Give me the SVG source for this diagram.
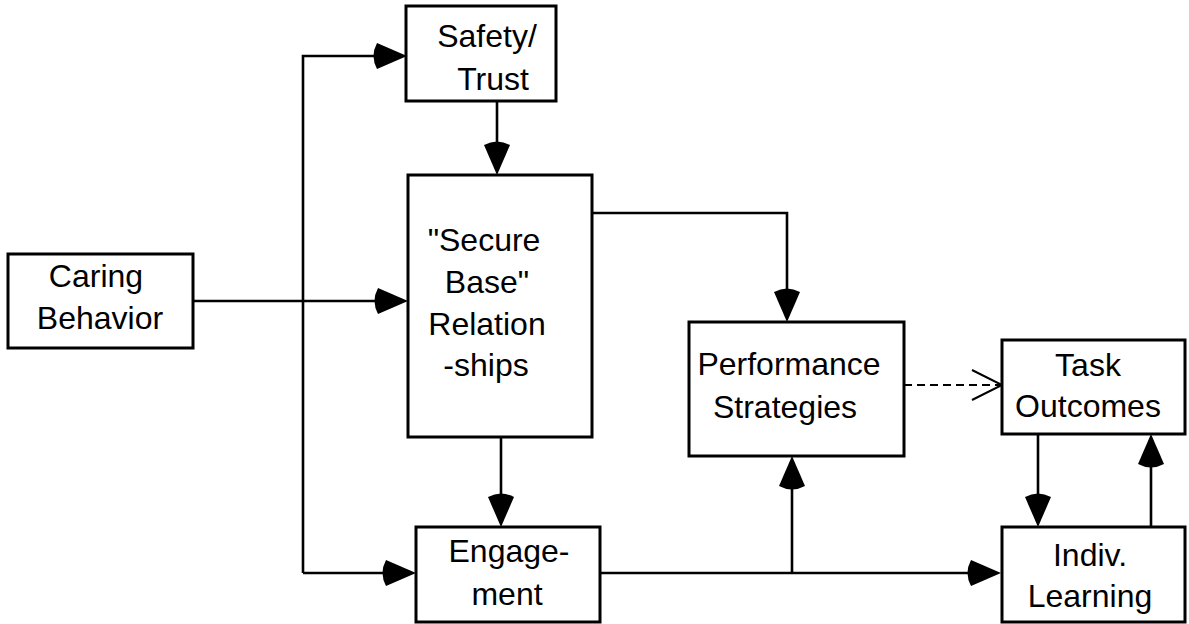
<svg xmlns="http://www.w3.org/2000/svg" width="1189" height="624" viewBox="0 0 1189 624">
<style>
.box{fill:#fff;stroke:#000;stroke-width:3}
.t{font-family:"Liberation Sans",Arial,sans-serif;font-size:32px;fill:#000;text-anchor:middle}
.c{fill:none;stroke:#000;stroke-width:2.6}
.d{fill:none;stroke:#000;stroke-width:2;stroke-dasharray:8 5}
.o{fill:none;stroke:#000;stroke-width:2}
</style>
<defs>
<marker id="ah" markerUnits="userSpaceOnUse" viewBox="-38 -15 40 30" refX="-10" refY="0" markerWidth="40" markerHeight="30" orient="auto">
<path d="M0,0 L-30,-13 Q-37,0 -30,13 Z" fill="#000"/>
</marker>
</defs>
<rect width="1189" height="624" fill="#fff"/>
<g id="connectors">
<path class="c" d="M303,573 V56 H397" marker-end="url(#ah)"/>
<path class="c" d="M303,573 H406" marker-end="url(#ah)"/>
<path class="c" d="M193,301 H398" marker-end="url(#ah)"/>
<path class="c" d="M497,101 V165" marker-end="url(#ah)"/>
<path class="c" d="M592,213 H787 V312" marker-end="url(#ah)"/>
<path class="c" d="M501,437 V517" marker-end="url(#ah)"/>
<path class="c" d="M600,573 H991" marker-end="url(#ah)"/>
<path class="c" d="M792,573 V466" marker-end="url(#ah)"/>
<path class="d" d="M904,385 H1001"/>
<polyline class="o" points="972,370 1002,385 972,400"/>
<path class="c" d="M1038,434 V517" marker-end="url(#ah)"/>
<path class="c" d="M1151,527 V444" marker-end="url(#ah)"/>
</g>
<g id="safety">
<rect class="box" x="406" y="6" width="150" height="95"/>
<text class="t" x="487" y="47">Safety/</text>
<text class="t" x="493" y="90">Trust</text>
</g>
<g id="caring">
<rect class="box" x="8" y="254" width="185" height="94"/>
<text class="t" x="96" y="287">Caring</text>
<text class="t" x="100" y="329">Behavior</text>
</g>
<g id="secure">
<rect class="box" x="408" y="175" width="184" height="262"/>
<text class="t" x="484" y="251">"Secure</text>
<text class="t" x="487" y="293">Base"</text>
<text class="t" x="487" y="335">Relation</text>
<text class="t" x="486" y="376">-ships</text>
</g>
<g id="performance">
<rect class="box" x="689" y="322" width="215" height="134"/>
<text class="t" x="789" y="375">Performance</text>
<text class="t" x="785" y="418">Strategies</text>
</g>
<g id="task">
<rect class="box" x="1002" y="340" width="183" height="94"/>
<text class="t" x="1088" y="376">Task</text>
<text class="t" x="1088" y="417">Outcomes</text>
</g>
<g id="engagement">
<rect class="box" x="416" y="527" width="184" height="95"/>
<text class="t" x="509" y="562">Engage-</text>
<text class="t" x="507" y="605">ment</text>
</g>
<g id="learning">
<rect class="box" x="1002" y="527" width="183" height="95"/>
<text class="t" x="1090" y="566">Indiv.</text>
<text class="t" x="1090" y="607">Learning</text>
</g>
</svg>
